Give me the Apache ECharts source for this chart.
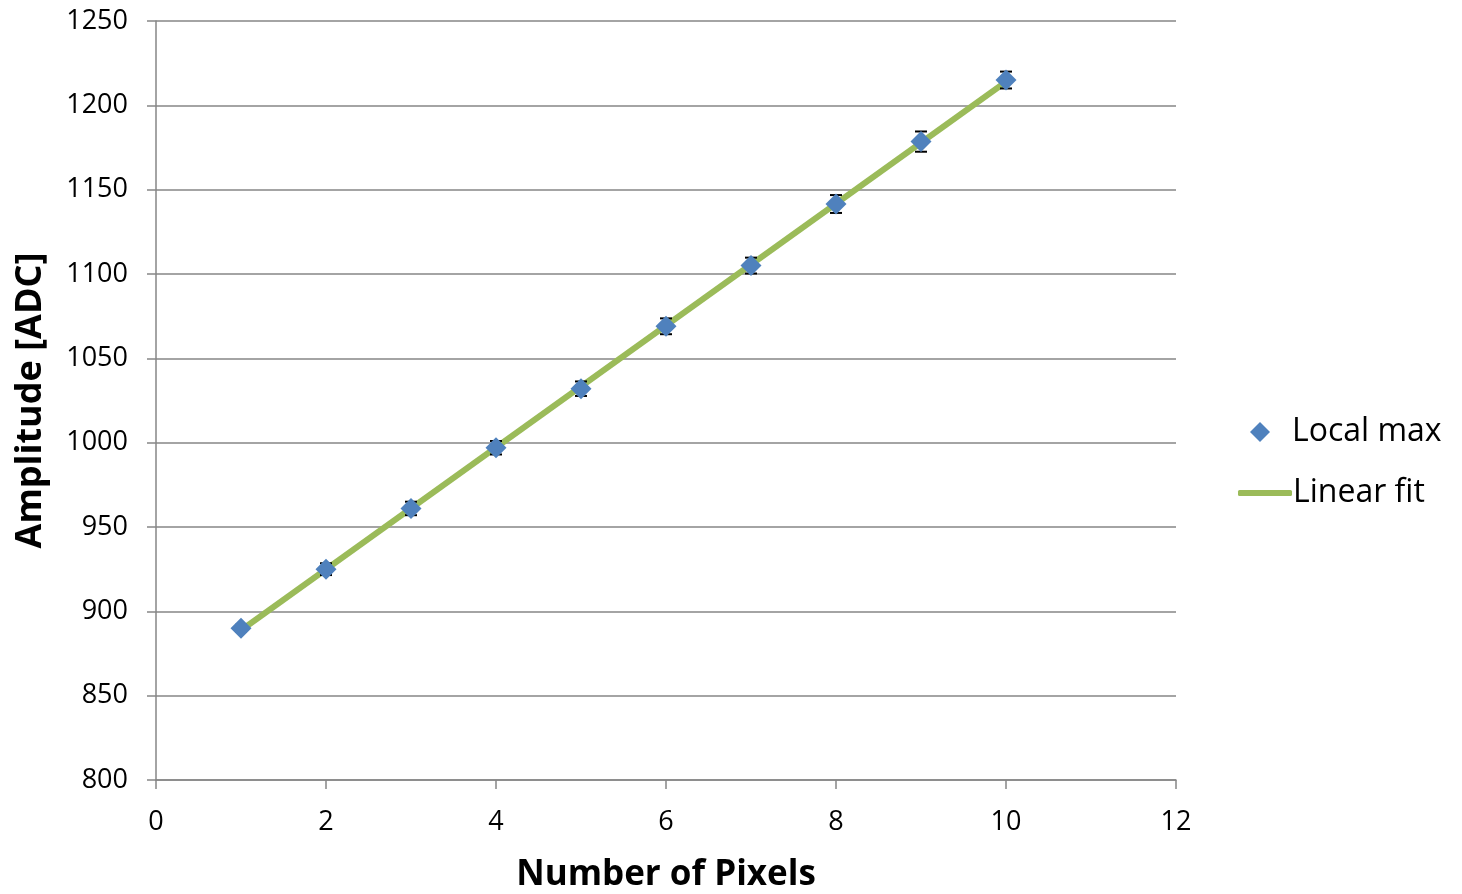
<!DOCTYPE html>
<html><head><meta charset="utf-8">
<script src="https://cdn.jsdelivr.net/npm/echarts@6/dist/echarts.min.js"></script>
<style>html,body{margin:0;padding:0;background:#fff}#c{width:1462px;height:894px}</style>
</head><body><div id="c"></div>
<script>
const pixels = [1, 2, 3, 4, 5, 6, 7, 8, 9, 10];
const localMax = [890, 925, 961, 997, 1032, 1069, 1105, 1141.5, 1178.5, 1215];
const errors = [2, 3.5, 4, 4, 4.3, 4.7, 4.7, 5.3, 6, 5];
const fitX = [1, 10];
const fitY = [888.8, 1214.0];
const yTicks = {min: 800, max: 1250, interval: 50};
const xTicks = {min: 0, max: 12, interval: 2};

const font = "'Open Sans', 'Liberation Sans', sans-serif";
const chart = echarts.init(document.getElementById('c'));
chart.setOption({
  animation: false,
  textStyle: {fontFamily: font},
  grid: {left: 156, right: 286, top: 21, bottom: 114, containLabel: false, outerBoundsMode: 'none'},
  xAxis: {
    type: 'value', min: xTicks.min, max: xTicks.max, interval: xTicks.interval,
    name: 'Number of Pixels', nameLocation: 'middle', nameGap: 78,
    nameTextStyle: {fontSize: 35, fontWeight: 'bold', color: '#000', fontFamily: font},
    axisLine: {show: true, lineStyle: {color: '#868686', width: 1.5}},
    axisTick: {show: true, inside: false, length: 9, lineStyle: {color: '#868686', width: 1.5}},
    axisLabel: {fontSize: 27, color: '#000', margin: 29, fontFamily: font, formatter: v => String(v)},
    splitLine: {show: false}
  },
  yAxis: {
    type: 'value', min: yTicks.min, max: yTicks.max, interval: yTicks.interval,
    name: 'Amplitude [ADC]', nameLocation: 'middle', nameGap: 107, nameRotate: 90,
    nameTextStyle: {fontSize: 36, fontWeight: 'bold', color: '#000', fontFamily: font},
    axisLine: {show: true, lineStyle: {color: '#868686', width: 1.5}},
    axisTick: {show: true, inside: false, length: 9, lineStyle: {color: '#868686', width: 1.5}},
    axisLabel: {fontSize: 27, color: '#000', margin: 28, fontFamily: font, formatter: v => String(v)},
    splitLine: {show: true, lineStyle: {color: '#868686', width: 1.5}}
  },
  legend: [
    {data: [{name: 'Local max', icon: 'diamond', itemStyle: {color: '#4F81BD', opacity: 1}}],
     left: 1245, top: 411, itemWidth: 20, itemHeight: 20, itemGap: 10,
     textStyle: {fontSize: 32, color: '#000', fontFamily: font, padding: [0, 0, 0, 17]}},
    {data: [{name: 'Linear fit', icon: 'roundRect', itemStyle: {color: '#9BBB59'}}],
     left: 1233, top: 472, itemWidth: 54, itemHeight: 6, itemGap: 0,
     textStyle: {fontSize: 32, color: '#000', fontFamily: font, padding: [0, 0, 0, -4]}}
  ],
  series: [
    {
      name: 'Linear fit', type: 'line', data: fitX.map((x, i) => [x, fitY[i]]),
      symbol: 'none', showSymbol: false, z: 2,
      lineStyle: {color: '#9BBB59', width: 6}, itemStyle: {color: '#9BBB59'}
    },
    {
      name: 'errors', type: 'custom', z: 3,
      data: pixels.map((x, i) => [x, localMax[i] - errors[i], localMax[i] + errors[i]]),
      renderItem: function (params, api) {
        const lo = api.coord([api.value(0), api.value(1)]);
        const hi = api.coord([api.value(0), api.value(2)]);
        const w = 6;
        const st = {stroke: '#000', lineWidth: 2};
        return {type: 'group', children: [
          {type: 'line', shape: {x1: lo[0], y1: lo[1], x2: hi[0], y2: hi[1]}, style: st},
          {type: 'line', shape: {x1: lo[0] - w, y1: lo[1], x2: lo[0] + w, y2: lo[1]}, style: st},
          {type: 'line', shape: {x1: hi[0] - w, y1: hi[1], x2: hi[0] + w, y2: hi[1]}, style: st}
        ]};
      }
    },
    {
      name: 'Local max', type: 'scatter', z: 4, symbol: 'diamond', symbolSize: 21,
      data: pixels.map((x, i) => [x, localMax[i]]),
      itemStyle: {color: '#4F81BD', opacity: 1}
    }
  ]
});
</script></body></html>
